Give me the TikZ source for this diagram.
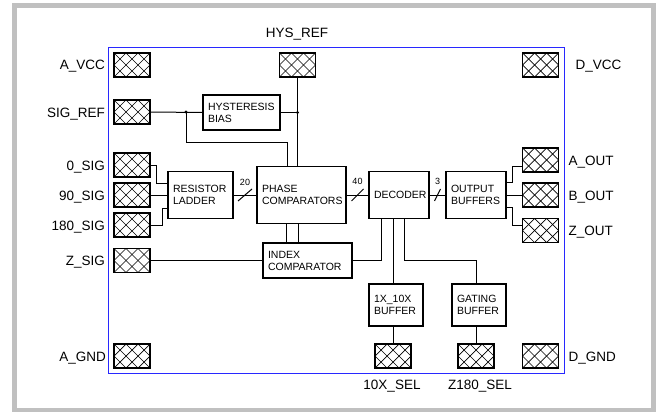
\documentclass[tikz,border=0pt]{standalone}
\usepackage{fontspec}
\setmainfont{Liberation Sans}
\definecolor{frame}{RGB}{192,192,192}
\definecolor{chip}{RGB}{40,40,255}
\begin{document}
\begin{tikzpicture}[x=1pt,y=-1pt,
  pad/.style={draw, line width=1.6pt, minimum width=36pt, minimum height=24pt, inner sep=0pt, outer sep=0pt,
    path picture={
      \foreach \k in {-2,...,5}{
        \draw[line width=0.7pt] ([xshift=\k*12pt]path picture bounding box.north west) -- ++(24,24);
        \draw[line width=0.7pt] ([xshift=\k*12pt]path picture bounding box.north west) -- ++(-24,24);
      }}},
  blk/.style={draw, line width=1.2pt, inner xsep=5pt, inner ysep=0pt, align=left,
    font=\fontsize{10.5}{12}\selectfont},
  lbl/.style={inner sep=0pt, text height=10pt, text depth=0pt, font=\fontsize{13.5}{14}\selectfont},
  bus/.style={inner sep=0pt, font=\fontsize{9}{10}\selectfont},
  wire/.style={line width=1pt},
  dot/.style={fill=black}
]
\useasboundingbox (0,0) rectangle (661,412);
\fill[white] (0,0) rectangle (661,412);
\draw[frame, line width=5pt] (14.5,5.5) rectangle (653,410);
\draw[chip, line width=1pt] (108,48) rectangle (564,373);

% pads
\node[pad] (avcc)   at (132,65) {};
\node[pad] (sigref) at (132,112) {};
\node[pad] (sig0)   at (132,165) {};
\node[pad] (sig90)  at (132,195) {};
\node[pad] (sig180) at (132,225) {};
\node[pad] (zsig)   at (132,260.5) {};
\node[pad] (agnd)   at (132,356) {};
\node[pad] (hysref) at (297.5,65) {};
\node[pad] (dvcc)   at (540.5,65) {};
\node[pad] (aout)   at (540.5,160) {};
\node[pad] (bout)   at (540.5,195) {};
\node[pad] (zout)   at (540.5,230.5) {};
\node[pad] (dgnd)   at (540.5,356) {};
\node[pad] (sel10)  at (393,356) {};
\node[pad] (selz)   at (476,356) {};

% labels
\node[lbl, anchor=east] (lavcc) at ([xshift=-9pt]avcc.west) {A\_VCC};
\node[lbl, anchor=east] (lsigref) at ([xshift=-9pt]sigref.west) {SIG\_REF};
\node[lbl, anchor=east] (lsig0) at ([xshift=-9pt]sig0.west) {0\_SIG};
\node[lbl, anchor=east] (lsig90) at ([xshift=-9pt]sig90.west) {90\_SIG};
\node[lbl, anchor=east] (lsig180) at ([xshift=-9pt]sig180.west) {180\_SIG};
\node[lbl, anchor=east] (lzsig) at ([xshift=-9pt]zsig.west) {Z\_SIG};
\node[lbl, anchor=east] (lagnd) at ([xshift=-8pt]agnd.west) {A\_GND};
\node[lbl] (lhysref) at (297,33) {HYS\_REF};
\node[lbl, anchor=west] (ldvcc) at ([xshift=17pt]dvcc.east) {D\_VCC};
\node[lbl, anchor=west] (laout) at ([xshift=10pt]aout.east) {A\_OUT};
\node[lbl, anchor=west] (lbout) at ([xshift=10pt]bout.east) {B\_OUT};
\node[lbl, anchor=west] (lzout) at ([xshift=10pt]zout.east) {Z\_OUT};
\node[lbl, anchor=west] (ldgnd) at ([xshift=10pt]dgnd.east) {D\_GND};
\node[lbl] (lsel10) at (392,384) {10X\_SEL};
\node[lbl] (lselz) at (480,384) {Z180\_SEL};

% blocks
\node[blk, text width=67pt, minimum height=35pt] (hys) at (241.5,112.5) {HYSTERESIS\\BIAS};
\node[blk, text width=55pt, minimum height=47pt] (rl)  at (200.5,195) {RESISTOR\\LADDER};
\node[blk, text width=79pt, minimum height=57pt] (pc)  at (301.5,195) {PHASE\\COMPARATORS};
\node[blk, text width=79pt, minimum height=35pt] (ic)  at (307.5,260.5) {INDEX\\COMPARATOR};
\node[blk, text width=50pt, minimum height=47pt, align=center] (dec) at (399,195) {DECODER};
\node[blk, text width=50pt, minimum height=47pt] (ob)  at (476,195) {OUTPUT\\BUFFERS};
\node[blk, text width=44pt, minimum height=42pt] (b10) at (396,305) {1X\_10X\\BUFFER};
\node[blk, text width=44pt, minimum height=42pt] (gb)  at (479,305) {GATING\\BUFFER};

% wires
\draw[wire] (sigref.east) -- (hys.west);
\coordinate (j1) at (186,112);
\coordinate (k1) at (287,142);
\draw[wire] (j1) |- (k1) -- (k1 |- pc.north);
\fill[dot] (j1) circle (1.6);
\draw[wire] (hysref.south) -- (hysref.south |- pc.north);
\coordinate (j2) at (hysref.south |- hys.east);
\draw[wire] (hys.east) -- (j2);
\fill[dot] (j2) circle (1.6);

\draw[wire] (sig0.east) -- ++(6,0) |- ([yshift=12pt]rl.west);
\draw[wire] (sig90.east) -- (rl.west);
\draw[wire] (sig180.east) -- ++(12,0) |- ([yshift=-13pt]rl.west);

\draw[wire] (rl.east) -- (pc.west) coordinate[pos=0.5] (s1);
\draw[wire] (s1) ++(-7,6) -- ++(14,-12);
\node[bus] (n20) at ([yshift=13pt]s1) {20};
\draw[wire] (pc.east) -- (dec.west) coordinate[pos=0.5] (s2);
\draw[wire] (s2) ++(-6,6) -- ++(12,-12);
\node[bus] (n40) at ([yshift=14pt]s2) {40};
\draw[wire] (dec.east) -- (ob.west) coordinate[pos=0.5] (s3);
\draw[wire] (s3) ++(-3,6) -- ++(6,-12);
\node[bus] (n3) at ([yshift=14pt]s3) {3};

\draw[wire] ([yshift=13pt]ob.east) -- ++(6,0) |- ([yshift=-6pt]aout.west);
\draw[wire] (ob.east) -- (bout.west);
\draw[wire] ([yshift=-12pt]ob.east) -- ++(6,0) |- ([yshift=5.5pt]zout.west);

\draw[wire] ([xshift=-15.5pt]pc.south) -- ([xshift=-15.5pt]pc.south |- ic.north);
\draw[wire] ([xshift=-3.5pt]pc.south) -- ([xshift=-3.5pt]pc.south |- ic.north);
\draw[wire] (zsig.east) -- (ic.west);
\draw[wire] (ic.east) -| ([xshift=-18pt]dec.south);
\draw[wire] ([xshift=-6pt]dec.south) -- ([xshift=-6pt]dec.south |- b10.north);
\draw[wire] ([xshift=5pt]dec.south) |- ([xshift=-3pt]gb.north |- ic.east) -- ([xshift=-3pt]gb.north);
\draw[wire] ([xshift=-3pt]b10.south) -- (sel10.north);
\draw[wire] ([xshift=-3pt]gb.south) -- (selz.north);
\end{tikzpicture}
\end{document}
